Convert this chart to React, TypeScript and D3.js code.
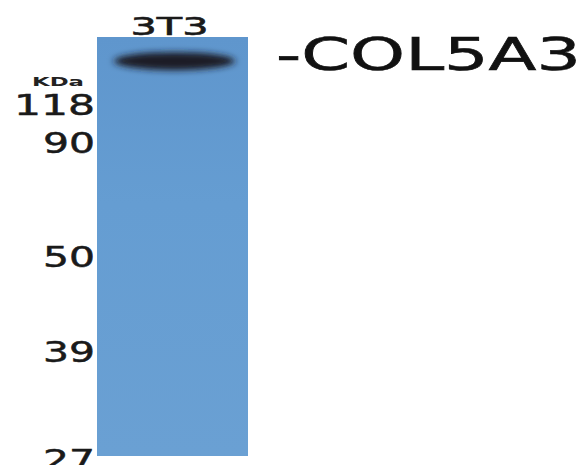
import React from "react";
import * as d3 from "d3";

const lanes = ["3T3"];
const markers = [118, 90, 50, 39, 27];
const markerLabels = ["118", "90", "50", "39", "27"];
const bandLane = ["3T3"];
const bandKda = [158];
const bandIntensity = [1];
const targetName = "-COL5A3";

const W = 582;
const H = 465;

export default function App() {
  // the gel isn't log-linear so calibrate piecewise against the ladder
  const y = d3
    .scaleLinear()
    .domain([180, ...markers])
    .range([37, 105, 143, 257, 352, 460]);

  const x = d3.scaleBand().domain(lanes).range([97, 248]).padding(0);
  const laneTop = 37;
  const laneBottom = 456;
  const bandW = x.bandwidth() * 0.8;

  return (
    <svg
      width={W}
      height={H}
      style={{ position: "absolute", left: 0, top: 0, background: "#fff" }}
      fontFamily="'DejaVu Sans', Verdana, sans-serif"
    >
      <defs>
        <filter id="blur" x="-30%" y="-100%" width="160%" height="300%">
          <feGaussianBlur stdDeviation="3.5 3" />
        </filter>
        <linearGradient id="lane" x1="0" y1="0" x2="0" y2="1">
          <stop offset="0" stopColor="#5f96cd" />
          <stop offset="0.4" stopColor="#659dd2" />
          <stop offset="1" stopColor="#6aa0d3" />
        </linearGradient>
      </defs>

      {lanes.map((l) => (
        <g key={l}>
          <rect
            x={x(l)}
            y={laneTop}
            width={x.bandwidth()}
            height={laneBottom - laneTop}
            fill="url(#lane)"
          />
          <text
            x={x(l)! + x.bandwidth() / 2 - 3}
            y={35}
            textAnchor="middle"
            fontSize={25}
            textLength={78}
            lengthAdjust="spacingAndGlyphs"
            fill="#1a1a1a"
            stroke="#1a1a1a"
            strokeWidth={0.6}
          >
            {l}
          </text>
        </g>
      ))}

      {bandLane.map((l, i) => (
        <ellipse
          key={i}
          cx={x(l)! + x.bandwidth() / 2 + 2}
          cy={y(bandKda[i])}
          rx={bandW / 2}
          ry={9}
          fill="#1b1e25"
          opacity={bandIntensity[i]}
          filter="url(#blur)"
        />
      ))}

      <text
        x={276}
        y={70}
        fontSize={44}
        textLength={305}
        lengthAdjust="spacingAndGlyphs"
        fill="#111"
        stroke="#111"
        strokeWidth={0.6}
      >
        {targetName}
      </text>

      <text
        x={32}
        y={86}
        fontSize={12}
        fontWeight="bold"
        textLength={52}
        lengthAdjust="spacingAndGlyphs"
        fill="#222"
      >
        KDa
      </text>

      {markers.map((m, i) => {
        const lab = markerLabels[i];
        const w = lab.length === 3 ? 81 : 52;
        return (
          <text
            key={m}
            x={95 - w}
            y={y(m) + 10}
            fontSize={28}
            textLength={w}
            lengthAdjust="spacingAndGlyphs"
            fill="#1a1a1a"
            stroke="#1a1a1a"
            strokeWidth={0.5}
          >
            {lab}
          </text>
        );
      })}
    </svg>
  );
}
